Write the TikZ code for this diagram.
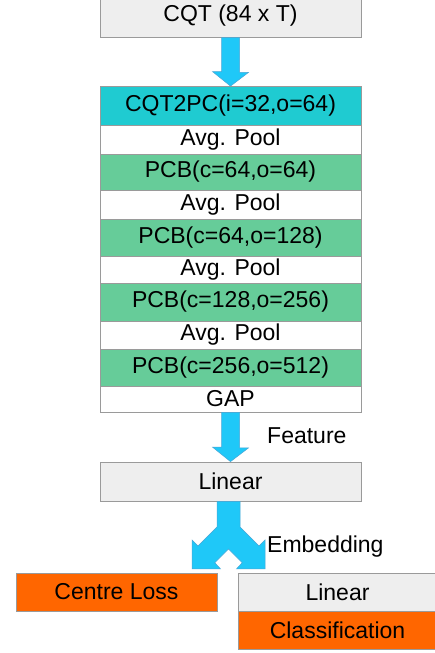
\documentclass[tikz,border=0pt]{standalone}
\usepackage{fontspec}
\setmainfont{Liberation Sans}
\usetikzlibrary{calc}
\definecolor{boxline}{HTML}{9A9A9A}
\definecolor{grayfill}{HTML}{EEEEEE}
\definecolor{tealfill}{HTML}{1FCBD1}
\definecolor{greenfill}{HTML}{66CC99}
\definecolor{orangefill}{HTML}{FF6600}
\definecolor{arrowfill}{HTML}{1FC8F8}
\definecolor{arrowline}{HTML}{4AA6D6}
\begin{document}
\begin{tikzpicture}[x=1pt,y=-1pt,
  cell/.style={draw=boxline, line width=0.8pt, rectangle, inner sep=0pt,
    minimum width=261pt, font=\fontsize{23}{27}\selectfont, text=black},
  smallcell/.style={cell, minimum width=201pt},
  barrow/.style={fill=arrowfill, draw=arrowline, line width=0.5pt, line join=miter},
  lbl/.style={font=\fontsize{23}{27}\selectfont, anchor=west, inner sep=0pt}]
\useasboundingbox (0,0) rectangle (435,653);
\fill[white] (0,0) rectangle (435,653);

% main stack
\node[cell, fill=grayfill, minimum height=42.6pt] (cqt) at (230.5,16) {CQT (84 x T)};
\node[cell, fill=tealfill, minimum height=39pt] (c2pc) at (230.5,106) {CQT2PC(i=32,o=64)};
\node[cell, fill=white, minimum height=28.5pt] (p1) at (230.5,139.75) {Avg. Pool};
\node[cell, fill=greenfill, minimum height=36pt] (pcb1) at (230.5,172) {PCB(c=64,o=64)};
\node[cell, fill=white, minimum height=29pt] (p2) at (230.5,204.5) {Avg. Pool};
\node[cell, fill=greenfill, minimum height=37pt] (pcb2) at (230.5,237.5) {PCB(c=64,o=128)};
\node[cell, fill=white, minimum height=27pt] (p3) at (230.5,269.5) {Avg. Pool};
\node[cell, fill=greenfill, minimum height=38pt] (pcb3) at (230.5,302) {PCB(c=128,o=256)};
\node[cell, fill=white, minimum height=28pt] (p4) at (230.5,335) {Avg. Pool};
\node[cell, fill=greenfill, minimum height=37pt] (pcb4) at (230.5,367.5) {PCB(c=256,o=512)};
\node[cell, fill=white, minimum height=26pt] (gap) at (230.5,399) {GAP};

\node[cell, fill=grayfill, minimum height=39pt] (lin) at (230.5,481.5) {Linear};

% bottom boxes
\node[smallcell, fill=orangefill, minimum height=38pt] (cl) at (116.5,592) {Centre Loss};
\node[cell, fill=grayfill, minimum width=199pt, minimum height=38pt] (lin2) at (337.5,592) {Linear};
\node[cell, fill=orangefill, minimum width=199pt, minimum height=38pt] (cls) at (337.5,630) {Classification};

% arrow CQT -> CQT2PC
\draw[barrow] ([xshift=-9pt]cqt.south) -- ++(18,0) -- ++(0,34.7) -- ++(9,0)
  -- (c2pc.north) -- ++(-18,-14.5) -- ++(9,0) -- cycle;

% arrow GAP -> Linear
\draw[barrow] ([xshift=-9pt]gap.south) -- ++(18,0) -- ++(0,35.5) -- ++(9,0)
  -- (lin.north) -- ++(-18,-14.5) -- ++(9,0) -- cycle;
\node[lbl] (feat) at (267,436) {Feature};

% split arrow Linear -> Centre Loss / Linear
\coordinate (sp) at ([xshift=-2pt]lin.south);
\begin{scope}[shift={(sp)}]
\draw[barrow] (11.5,0) -- (11.5,25.5) -- (30.5,44.5) -- (36.5,38.5) -- (36.5,67.5)
  -- (8,67.5) -- (13.75,61.25) -- (0,47.5) -- (-13.75,61.25) -- (-8,67.5)
  -- (-36.5,67.5) -- (-36.5,38.5) -- (-30.5,44.5) -- (-11.5,25.5) -- (-11.5,0) -- cycle;
\end{scope}
\node[lbl] (emb) at (267,547) {Embedding};
\end{tikzpicture}
\end{document}
